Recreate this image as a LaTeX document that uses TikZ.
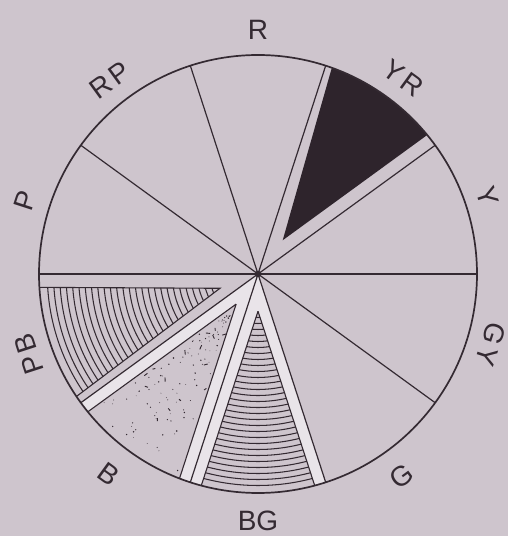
\documentclass[tikz,border=0pt]{standalone}
\usepackage{fontspec}
\setmainfont{Liberation Sans}
\definecolor{bg}{RGB}{206,197,205}
\definecolor{ink}{RGB}{52,42,50}
\definecolor{band}{RGB}{233,228,233}
\definecolor{blk}{RGB}{46,36,44}
\tikzset{
  lab/.style={text=ink, inner sep=0pt, font=\fontsize{28}{28}\selectfont},
  radial/.style={draw=ink, line width=1.2pt},
  edge/.style={draw=ink, line width=1.1pt},
  hatchline/.style={draw=ink, line width=1.05pt},
}
\begin{document}
\begin{tikzpicture}[x=1pt,y=1pt]
\fill[bg] (0,0) rectangle (508,536);
\useasboundingbox (0,0) rectangle (508,536);
\def\R{219}
\begin{scope}[shift={(258,262)}]
  \coordinate (C) at (0,0);
  % framed sectors B and BG: band colour
  \fill[band] (0,0) -- (216:\R) arc[start angle=216,end angle=288,radius=\R] -- cycle;
  % B interior (stippled)
  \fill[bg] (234:37.2) -- (219:\R) arc[start angle=219,end angle=249,radius=\R] -- cycle;
  \begin{scope}
    \clip (234:37.2) -- (219:\R) arc[start angle=219,end angle=249,radius=\R] -- cycle;
    \pgfmathsetseed{11}
    \foreach \i in {1,...,100} {
      \pgfmathsetmacro\rr{50+rnd*165}
      \pgfmathsetmacro\off{asin(13/\rr)}
      \pgfmathsetmacro\a{216+\off+rnd*(36-2*\off)}
      \pgfmathsetmacro\s{0.35+rnd*0.5}
      \fill[ink] (\a:\rr) circle (\s);
    }
    \foreach \i in {1,...,14} {
      \pgfmathsetmacro\rr{70+rnd*130}
      \pgfmathsetmacro\off{asin(15/\rr)}
      \pgfmathsetmacro\a{216+\off+rnd*(36-2*\off)}
      \pgfmathsetmacro\t{rnd*180}
      \draw[ink, line width=0.9pt] (\a:\rr) -- ++(\t:2.5+rnd*3);
    }
  \end{scope}
  \draw[edge] (234:37.2) -- (219:\R) (234:37.2) -- (249:\R);
  % BG interior (concentric hatching)
  \fill[bg] (270:37.2) -- (255:\R) arc[start angle=255,end angle=285,radius=\R] -- cycle;
  \begin{scope}
    \clip (270:37.2) -- (255:\R) arc[start angle=255,end angle=285,radius=\R] -- cycle;
    \foreach \r in {43.5,49.5,...,216} { \draw[hatchline] (0,0) circle (\r); }
  \end{scope}
  \draw[edge] (270:37.2) -- (255:\R) (270:37.2) -- (285:\R);
  % PB hatched wedge
  \begin{scope}
    \clip (200.6:40.6) -- (183.5:\R) arc[start angle=183.5,end angle=214,radius=\R] -- cycle;
    \foreach \r in {42,48.25,...,216} { \draw[hatchline] (0,0) circle (\r); }
  \end{scope}
  \draw[edge] (183.5:\R) -- (200.6:40.6) -- (214:\R);
  % YR black wedge
  \fill[blk] (53.8:41.8) -- (39.4:\R) arc[start angle=39.4,end angle=70.3,radius=\R] -- cycle;
  % radial lines
  \foreach \a in {0,36,...,324} { \draw[radial] (0,0) -- (\a:\R); }
  % circle and centre
  \draw[ink, line width=1.7pt] (0,0) circle (\R);
  \fill[ink] (0,0) circle (3.3);
  % labels
  \node[lab, rotate=0]   (lR)  at (90:244)    {R};
  \node[lab, rotate=36]  (lRP) at (127.3:244) {R\kern3pt P};
  \node[lab, rotate=72]  (lP)  at (162.6:244) {P};
  \node[lab, rotate=108] (lPB) at (199.3:243) {P\kern3pt B};
  \node[lab, rotate=-36] (lB)  at (233.4:250) {B};
  \node[lab, rotate=0]   (lBG) at (270:247)   {BG};
  \node[lab, rotate=36]  (lG)  at (305.3:248) {G};
  \node[lab, rotate=-108](lGY) at (343.2:243) {G\kern3pt Y};
  \node[lab, rotate=-72] (lY)  at (18.8:242)  {Y};
  \node[lab, rotate=-36] (lYR) at (53.4:244)  {Y\kern3pt R};
\end{scope}
\end{tikzpicture}
\end{document}
